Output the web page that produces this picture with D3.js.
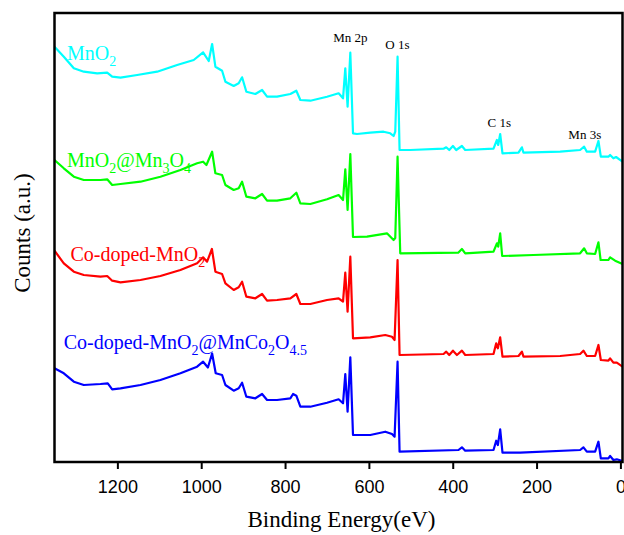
<!DOCTYPE html>
<html>
<head>
<meta charset="utf-8">
<style>
  body { margin: 0; background: #fff; }
  svg { display: block; }
</style>
</head>
<body>
<div id="xps"></div>
<script src="https://cdn.jsdelivr.net/npm/d3@7"></script>
<script>
// survey spectra, [binding energy (eV), counts (a.u., stacked)]
var mno2 = [
  [1350, 414.3], [1327.8, 404.3], [1303.9, 392.7], [1280.1, 389.3], [1248.2, 387.7], [1224.3, 388.3],
  [1212.4, 384.3], [1192.6, 383.3], [1152.8, 386], [1105.1, 389.3], [1057.5, 396], [1017.9, 401],
  [995.5, 408.7], [982.1, 400], [974, 417], [966.2, 394.3], [950.2, 390.3], [942.3, 379.3],
  [922.5, 375], [910.6, 377.7], [902.5, 383.7], [892.3, 369.3], [870.8, 367], [854.8, 371],
  [842.9, 364.3], [819.1, 364.3], [787.4, 367], [773.1, 370.3], [763.5, 361], [739.7, 360.3],
  [699.9, 364.3], [672.2, 367.7], [661.7, 362.7], [656.3, 392.7], [650.8, 354.3], [644.3, 408.3],
  [637.9, 327.7], [628.4, 327], [596.7, 328.3], [565, 329.3], [549, 327.7], [541.1, 325],
  [537.1, 329.3], [531.6, 404.3], [526.8, 311], [501.3, 311], [421.9, 312.3], [415.5, 313.7],
  [408.3, 311], [399.5, 315], [391.7, 311], [378.1, 315], [370.2, 311], [302.7, 312.3],
  [294.6, 321], [291.5, 316], [286.8, 327], [281.3, 307.7], [243.1, 308.3], [235, 313.7],
  [231.2, 308.3], [143.7, 309.3], [96.1, 311], [86.5, 314.3], [80.1, 309.3], [60.3, 309.3],
  [52.4, 320], [46.7, 304.3], [28.6, 304.3], [24.6, 306], [16.7, 302.7], [10.3, 304], [-5, 299.3]
];

var mno2Mn3o4 = [
  [1350, 301], [1327.8, 292.7], [1303.9, 284.3], [1280.1, 281], [1240.3, 281], [1224.3, 281.7],
  [1212.4, 276], [1192.6, 277], [1144.9, 279.3], [1097.3, 284.3], [1049.6, 291], [1009.8, 297.7],
  [995.5, 299.3], [987.6, 296], [974, 309.3], [966.2, 287.7], [950.2, 286], [942.3, 276],
  [922.5, 271], [910.6, 272.7], [902.5, 279.3], [892.3, 264.3], [870.8, 262.7], [854.8, 267],
  [842.9, 260.3], [819.1, 260.3], [787.4, 262.7], [773.1, 268.3], [763.5, 257.7], [739.7, 257],
  [699.9, 261.7], [672.2, 266], [661.7, 261], [656.3, 291.7], [650.8, 251], [644.3, 307],
  [637.9, 224], [604.5, 224.3], [556.9, 227.7], [541.1, 221], [537.1, 223], [531.6, 304.3],
  [525.2, 207.7], [386.9, 208.3], [378.1, 212], [370.2, 207.7], [302.7, 209.3], [294.6, 217.7],
  [291.5, 214.3], [286.8, 227.7], [282, 205], [207.4, 206], [96.1, 207.7], [86.5, 212.7],
  [80.1, 207.7], [60.3, 207], [52.4, 218.7], [47.2, 201], [28.6, 201], [24.6, 203.7],
  [12.6, 200.3], [-5, 197]
];

var coMno2 = [
  [1350, 210.3], [1327.8, 197.7], [1303.9, 189.3], [1280.1, 186], [1240.3, 184.3], [1224.3, 185],
  [1212.4, 180.3], [1192.6, 178.7], [1144.9, 181], [1097.3, 185], [1049.6, 191], [1009.8, 197.7],
  [995.5, 203.7], [986, 199.3], [974.5, 212], [966.2, 189.3], [950.2, 187], [942.3, 177.7],
  [922.5, 171], [910.6, 173.7], [902.5, 179.3], [892.3, 164.3], [870.8, 162.7], [854.8, 167],
  [842.9, 160.3], [819.1, 161], [787.4, 162.7], [773.1, 167], [763.5, 157], [739.7, 157],
  [699.9, 161], [672.2, 162.7], [661.7, 159.3], [656.3, 188.3], [650.8, 149.3], [644.3, 204.3],
  [637.9, 122.7], [596.7, 123.7], [560.9, 126], [544.9, 124.3], [538.7, 121], [531.6, 201],
  [526.8, 106], [421.9, 107], [415.5, 109.3], [408.3, 106], [399.5, 110.3], [390, 106],
  [378.1, 110.3], [370.2, 106], [302.7, 107], [296.3, 117.7], [292.3, 112.7], [286.8, 123.7],
  [281.3, 104.3], [243.1, 105], [235, 109.3], [231.2, 104.3], [143.7, 105], [96.1, 107],
  [88.2, 110.3], [80.1, 105], [60.3, 105], [52.4, 116], [46.7, 101], [28.6, 100.3],
  [24.6, 102.7], [16.7, 98.3], [8.6, 98.3], [-5, 94.3]
];

var coMno2Mnco2o4 = [
  [1350, 92.7], [1327.8, 87.7], [1303.9, 79.3], [1280.1, 76], [1240.3, 77], [1222.9, 77.7],
  [1212.4, 71.7], [1192.6, 72.7], [1144.9, 76], [1097.3, 81], [1049.6, 87.7], [1009.8, 94.3],
  [995.5, 99.3], [984, 93.5], [974, 107.5], [965.4, 87.7], [950.2, 86], [942.3, 76],
  [922.5, 70.3], [910.6, 72.7], [902.5, 78.3], [892.3, 64.3], [870.8, 62.7], [854.8, 67],
  [842.9, 61], [819.1, 61], [787.4, 62.7], [780.9, 67], [773.1, 65.3], [763.5, 54.3],
  [739.7, 54.3], [699.9, 58.3], [672.2, 61.7], [661.7, 57.7], [656.3, 87], [650.8, 49.3],
  [644.3, 103.7], [637.9, 26], [596.7, 26], [560.9, 29.3], [544.9, 27], [538.7, 24.3],
  [531.6, 99.3], [526.8, 9.3], [386.2, 11], [378.1, 13.7], [370.2, 10.3], [302.7, 11],
  [296.3, 20.3], [292.3, 16], [286.8, 31.7], [281.3, 8.3], [239.1, 8.3], [96.1, 11],
  [88.2, 13.7], [80.1, 9.3], [60.3, 9.3], [52.4, 19.3], [46.7, 2.7], [28.6, 2.7],
  [24.6, 5], [16.7, 1], [8.6, 1.7], [-5, 0]
];

var seriesData = [mno2, mno2Mn3o4, coMno2, coMno2Mnco2o4];
var seriesColors = ["#00ffff", "#00ff00", "#ff0000", "#0000ff"];
// sample names: [text, subscript] pieces
var seriesLabels = [
  [["MnO", false], ["2", true]],
  [["MnO", false], ["2", true], ["@Mn", false], ["3", true], ["O", false], ["4", true]],
  [["Co-doped-MnO", false], ["2", true]],
  [["Co-doped-MnO", false], ["2", true], ["@MnCo", false], ["2", true], ["O", false], ["4.5", true]]
];
var labelAt = [[1320, 401], [1320, 294], [1312, 200], [1328, 112]];

var peakNames = ["Mn 2p", "O 1s", "C 1s", "Mn 3s"];
var peakAt = [[644, 419], [532, 412], [289, 334], [85, 322]];

var xTicks = [1200, 1000, 800, 600, 400, 200, 0];

var margin = {top: 13, right: 1.5, bottom: 73, left: 54.5};
var width = 624 - margin.left - margin.right;
var height = 535 - margin.top - margin.bottom;

var svg = d3.select("#xps").append("svg")
    .attr("width", 624)
    .attr("height", 535);

var g = svg.append("g").attr("transform", "translate(" + margin.left + "," + margin.top + ")");

var x = d3.scaleLinear().domain([1350, -5]).range([0, width]);
var y = d3.scaleLinear().domain([-1, 448]).range([height, 0]);

g.append("clipPath").attr("id", "clip")
  .append("rect").attr("width", width).attr("height", height);

var line = d3.line()
    .x(function(d) { return x(d[0]); })
    .y(function(d) { return y(d[1]); });

g.append("g").attr("clip-path", "url(#clip)")
  .selectAll("path")
  .data(seriesData)
  .enter().append("path")
    .attr("fill", "none")
    .attr("stroke", function(d, i) { return seriesColors[i]; })
    .attr("stroke-width", 2.2)
    .attr("stroke-linejoin", "round")
    .attr("d", line);

// frame
g.append("rect")
    .attr("width", width)
    .attr("height", height)
    .attr("fill", "none")
    .attr("stroke", "#000")
    .attr("stroke-width", 2.5);

g.append("g")
    .attr("transform", "translate(0," + height + ")")
    .call(d3.axisBottom(x).tickValues(xTicks).tickFormat(d3.format("d")).tickSize(7).tickPadding(11))
    .call(function(a) {
      a.select(".domain").remove();
      a.selectAll("line").attr("stroke-width", 2);
      a.selectAll("text")
        .style("font-family", "'Liberation Sans', Arial, sans-serif")
        .style("font-size", "18px")
        .attr("fill", "#000");
    });

// sample labels
seriesLabels.forEach(function(parts, i) {
  var t = g.append("text")
      .attr("x", x(labelAt[i][0]))
      .attr("y", y(labelAt[i][1]))
      .attr("fill", seriesColors[i])
      .style("font-family", "'Liberation Serif', 'Times New Roman', serif")
      .style("font-size", "20px");
  var down = false;
  parts.forEach(function(p) {
    var s = t.append("tspan").text(p[0]);
    if (p[1] && !down) { s.attr("dy", 6).style("font-size", "14px"); down = true; }
    else if (!p[1] && down) { s.attr("dy", -6); down = false; }
    else if (p[1]) { s.style("font-size", "14px"); }
  });
});

// peak labels
g.selectAll(".peak")
  .data(peakNames)
  .enter().append("text")
    .attr("class", "peak")
    .attr("x", function(d, i) { return x(peakAt[i][0]); })
    .attr("y", function(d, i) { return y(peakAt[i][1]); })
    .attr("text-anchor", "middle")
    .style("font-family", "'Liberation Serif', 'Times New Roman', serif")
    .style("font-size", "13px")
    .text(function(d) { return d; });

svg.append("text")
    .attr("x", margin.left + width / 2 + 3)
    .attr("y", 527)
    .attr("text-anchor", "middle")
    .style("font-family", "'Liberation Serif', 'Times New Roman', serif")
    .style("font-size", "23px")
    .text("Binding Energy(eV)");

svg.append("text")
    .attr("transform", "translate(30,233) rotate(-90)")
    .attr("text-anchor", "middle")
    .style("font-family", "'Liberation Serif', 'Times New Roman', serif")
    .style("font-size", "23px")
    .text("Counts (a.u.)");
</script>
</body>
</html>
